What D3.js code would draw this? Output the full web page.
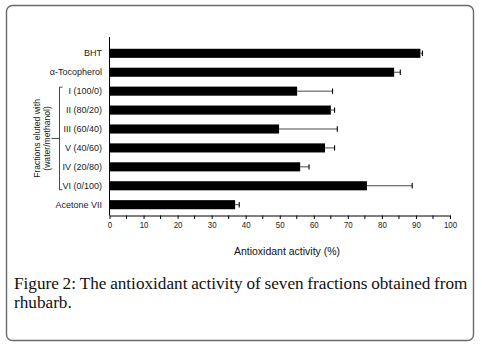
<!DOCTYPE html>
<html>
<head>
<meta charset="utf-8">
<script src="https://cdn.jsdelivr.net/npm/d3@7/dist/d3.min.js"></script>
<style>
  html, body { margin: 0; padding: 0; background: #fff; }
  svg { display: block; }
</style>
</head>
<body>
<script>
// Antioxidant activity of rhubarb fractions and reference compounds
const categories = ["BHT", "α-Tocopherol", "I (100/0)", "II (80/20)", "III (60/40)",
                    "V (40/60)", "IV (20/80)", "VI (0/100)", "Acetone VII"];
const activity = [91.3, 83.6, 55.1, 65.0, 49.8, 63.3, 56.0, 75.6, 36.9];
const errors   = [0.6, 1.8, 10.4, 1.1, 17.1, 2.8, 2.6, 13.3, 1.2];
const xTicks   = [0, 10, 20, 30, 40, 50, 60, 70, 80, 90, 100];
const minorTicks = [5, 15, 25, 35, 45, 55, 65, 75, 85, 95];
const fractionGroup = ["I (100/0)", "VI (0/100)"];
const groupTitle = ["Fractions eluted with", "(water/methanol)"];
const xTitle = "Antioxidant activity (%)";
const captionLines = ["Figure 2: The antioxidant activity of seven fractions obtained from", "rhubarb."];

const W = 482, H = 346;
const svg = d3.select("body").append("svg").attr("width", W).attr("height", H);

// outer frame with rounded corners
svg.append("rect")
  .attr("x", 6.5).attr("y", 5.5).attr("width", 467).attr("height", 335)
  .attr("rx", 6).attr("ry", 6)
  .attr("fill", "#fff").attr("stroke", "#6a6a6a").attr("stroke-width", 1.4);

const x = d3.scaleLinear().domain([0, 100]).range([109.5, 450]);
const y = d3.scaleBand().domain(categories).range([39.5, 218.5])
  .paddingInner(0.52).paddingOuter(0.49);

const font = "'Liberation Sans', Arial, sans-serif";

// bars
svg.append("g").selectAll("rect").data(categories).join("rect")
  .attr("x", x(0))
  .attr("y", d => y(d))
  .attr("width", (d, i) => x(activity[i]) - x(0))
  .attr("height", y.bandwidth())
  .attr("fill", "#000");

// error bars (upper side only)
const eb = svg.append("g");
categories.forEach((c, i) => {
  const cy = y(c) + y.bandwidth() / 2;
  const x1 = x(activity[i]), x2 = x(activity[i] + errors[i]);
  eb.append("line").attr("x1", x1).attr("x2", x2).attr("y1", cy).attr("y2", cy)
    .attr("stroke", "#333").attr("stroke-width", 0.9);
  eb.append("line").attr("x1", x2).attr("x2", x2).attr("y1", cy - 2.7).attr("y2", cy + 2.7)
    .attr("stroke", "#000").attr("stroke-width", 1.1);
});

// x axis
const xAxis = svg.append("g").attr("transform", "translate(0,215.5)")
  .call(d3.axisBottom(x).tickValues(xTicks).tickSize(3.5).tickPadding(3).tickSizeOuter(0));
xAxis.select(".domain").attr("stroke", "#000").attr("stroke-width", 1);
xAxis.selectAll(".tick line").attr("stroke", "#000");
xAxis.selectAll(".tick text")
  .attr("font-family", font).attr("font-size", 9).attr("fill", "#222")
  .attr("transform", "scale(0.88,1)");
xAxis.selectAll(".minor").data(minorTicks).join("line")
  .attr("class", "minor")
  .attr("x1", d => x(d)).attr("x2", d => x(d))
  .attr("y1", 0).attr("y2", 3.5).attr("stroke", "#000");

// y axis: plain line with category labels
const yAxis = svg.append("g").attr("transform", `translate(${x(0)},0)`)
  .call(d3.axisLeft(y).tickSize(0).tickPadding(7.5).tickSizeOuter(0));
yAxis.select(".domain").attr("stroke", "#000").attr("stroke-width", 1)
  .attr("d", "M0,37V215.5");
yAxis.selectAll(".tick text")
  .attr("font-family", font).attr("font-size", 9).attr("fill", "#222");

// bracket grouping the eluted fractions
const gTop = y(fractionGroup[0]) + y.bandwidth() / 2 - 4;
const gBot = y(fractionGroup[1]) + y.bandwidth() / 2 + 4;
const gMid = (gTop + gBot) / 2;
const bx = 59.5;
svg.append("path")
  .attr("d", `M${bx + 3},${gTop}H${bx}V${gBot}H${bx + 3}M${bx},${gMid}H${bx - 8}`)
  .attr("fill", "none").attr("stroke", "#333").attr("stroke-width", 0.9);

svg.append("g").selectAll("text").data(groupTitle).join("text")
  .attr("transform", (d, i) => `translate(${[39.5, 50][i]},${gMid}) rotate(-90)`)
  .attr("text-anchor", "middle")
  .attr("font-family", font).attr("font-size", 8.6).attr("fill", "#222")
  .text(d => d);

// x axis title
svg.append("text")
  .attr("x", 287).attr("y", 254.5)
  .attr("text-anchor", "middle")
  .attr("font-family", font).attr("font-size", 10.5).attr("fill", "#111")
  .text(xTitle);

// caption, first line justified across the frame
const capFont = "'Liberation Serif', 'Times New Roman', serif";
const capLeft = 14, capRight = 467.5;
const words = captionLines[0].split(" ");
const cap = svg.append("g").attr("font-family", capFont).attr("font-size", 17.2).attr("fill", "#111");
const wNodes = words.map(w => cap.append("text").attr("y", 289).text(w));
const widths = wNodes.map(n => n.node().getComputedTextLength());
const gap = (capRight - capLeft - d3.sum(widths)) / (words.length - 1);
let cx = capLeft;
wNodes.forEach((n, i) => { n.attr("x", cx); cx += widths[i] + gap; });
cap.append("text").attr("x", capLeft).attr("y", 308).text(captionLines[1]);
</script>
</body>
</html>
